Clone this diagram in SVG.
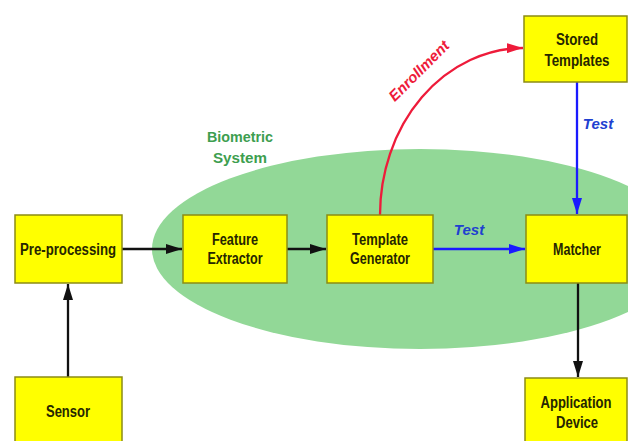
<svg xmlns="http://www.w3.org/2000/svg" width="628" height="441" viewBox="0 0 628 441">
<style>
.box{fill:#ffff00;stroke:#8c8c14;stroke-width:1.5}
.lbl{font-family:"Liberation Sans",Arial,sans-serif;font-weight:bold;font-size:16px;fill:#262600;text-anchor:middle}
.sys{font-family:"Liberation Sans",Arial,sans-serif;font-weight:bold;font-size:14px;fill:#3d9e4f;text-anchor:middle}
.edge{fill:none;stroke-width:2.3}
.blk{stroke:#111111}
.blu{stroke:#1a1aff}
.red{stroke:#ee1b3a}
.elbl{font-family:"Liberation Sans",Arial,sans-serif;font-weight:bold;font-style:italic;font-size:15px;text-anchor:middle}
</style>
<defs>
<marker id="ab" viewBox="0 0 16 10" refX="16" refY="5" markerWidth="16" markerHeight="10" markerUnits="userSpaceOnUse" orient="auto"><path d="M0,0 L16,5 L0,10 z" fill="#111111"/></marker>
<marker id="au" viewBox="0 0 16 10" refX="16" refY="5" markerWidth="16" markerHeight="10" markerUnits="userSpaceOnUse" orient="auto"><path d="M0,0 L16,5 L0,10 z" fill="#1a1aff"/></marker>
<marker id="ar" viewBox="0 0 16 10" refX="16" refY="5" markerWidth="16" markerHeight="10" markerUnits="userSpaceOnUse" orient="auto"><path d="M0,0 L16,5 L0,10 z" fill="#ee1b3a"/></marker>
</defs>
<rect width="628" height="441" fill="#ffffff"/>
<g id="biometric-system">
<ellipse cx="420" cy="249" rx="268" ry="100" fill="#92d897"/>
<text class="sys" x="240" y="142" textLength="66" lengthAdjust="spacingAndGlyphs">Biometric</text>
<text class="sys" x="240" y="163" textLength="54" lengthAdjust="spacingAndGlyphs">System</text>
</g>
<g id="connectors">
<path class="edge blk" d="M68,377 L68,284" marker-end="url(#ab)"/>
<path class="edge blk" d="M122,249 L182,249" marker-end="url(#ab)"/>
<path class="edge blk" d="M287,249 L326,249" marker-end="url(#ab)"/>
<path class="edge blu" d="M433,249 L525,249" marker-end="url(#au)"/>
<path class="edge blu" d="M577,82 L577,214" marker-end="url(#au)"/>
<path class="edge blk" d="M578,283 L578,377" marker-end="url(#ab)"/>
<path class="edge red" d="M380,215 A144,167 0 0 1 523,48" marker-end="url(#ar)"/>
<text class="elbl" x="469" y="235" fill="#2040d0">Test</text>
<text class="elbl" x="598" y="129" fill="#2040d0">Test</text>
<text class="elbl" transform="translate(419,71) rotate(-45)" x="0" y="5" fill="#ee1b3a">Enrollment</text>
</g>
<g id="sensor">
<rect class="box" x="15" y="377" width="107" height="70"/>
<text class="lbl" x="68" y="417" textLength="44" lengthAdjust="spacingAndGlyphs">Sensor</text>
</g>
<g id="pre-processing">
<rect class="box" x="15" y="215" width="107" height="68"/>
<text class="lbl" x="68" y="255" textLength="96" lengthAdjust="spacingAndGlyphs">Pre-processing</text>
</g>
<g id="feature-extractor">
<rect class="box" x="183" y="215" width="104" height="68"/>
<text class="lbl" x="235" y="245" textLength="46" lengthAdjust="spacingAndGlyphs">Feature</text>
<text class="lbl" x="235" y="264" textLength="55" lengthAdjust="spacingAndGlyphs">Extractor</text>
</g>
<g id="template-generator">
<rect class="box" x="327" y="215" width="106" height="68"/>
<text class="lbl" x="380" y="245" textLength="56" lengthAdjust="spacingAndGlyphs">Template</text>
<text class="lbl" x="380" y="264" textLength="60" lengthAdjust="spacingAndGlyphs">Generator</text>
</g>
<g id="matcher">
<rect class="box" x="526" y="215" width="101" height="68"/>
<text class="lbl" x="577" y="255" textLength="48" lengthAdjust="spacingAndGlyphs">Matcher</text>
</g>
<g id="stored-templates">
<rect class="box" x="524" y="16" width="103" height="66"/>
<text class="lbl" x="577" y="45" textLength="42" lengthAdjust="spacingAndGlyphs">Stored</text>
<text class="lbl" x="577" y="66" textLength="65" lengthAdjust="spacingAndGlyphs">Templates</text>
</g>
<g id="application-device">
<rect class="box" x="525" y="378" width="102" height="70"/>
<text class="lbl" x="576" y="408" textLength="71" lengthAdjust="spacingAndGlyphs">Application</text>
<text class="lbl" x="577" y="428" textLength="42" lengthAdjust="spacingAndGlyphs">Device</text>
</g>
</svg>
